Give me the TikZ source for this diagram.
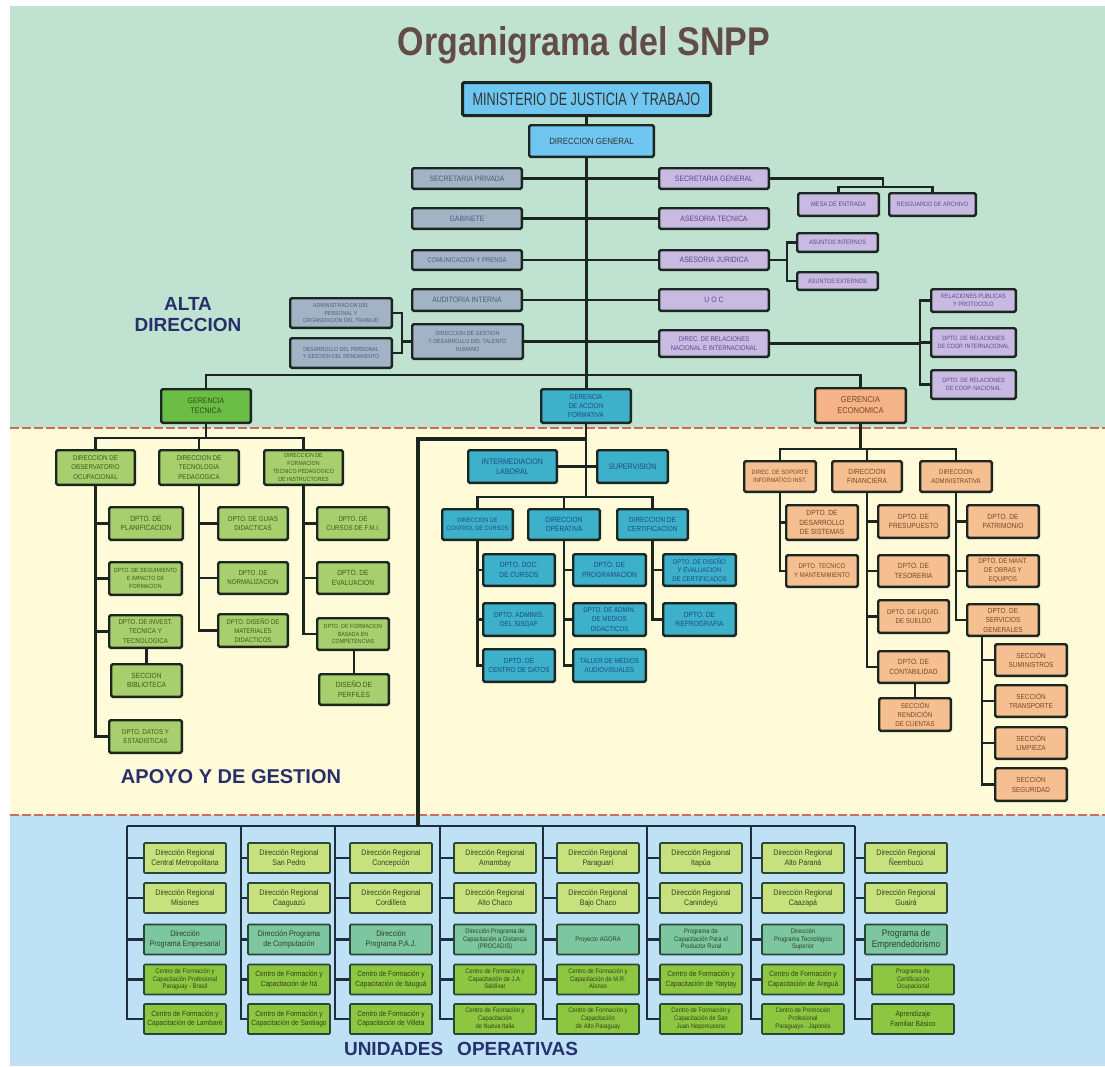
\documentclass[tikz,border=0pt]{standalone}
\usepackage{fontspec}
\setmainfont{Liberation Sans}
\newfontfamily\boxfont[FakeStretch=0.88]{Liberation Sans}
\newfontfamily\ministryfont[FakeStretch=0.7]{Liberation Sans}
\newfontfamily\titlefont[FakeStretch=0.85]{Liberation Sans}
\usetikzlibrary{calc,positioning}

\definecolor{bgGreen}{HTML}{BFE2D1}
\definecolor{bgYellow}{HTML}{FFFBD8}
\definecolor{bgBlue}{HTML}{BEE1F6}
\definecolor{dashRed}{HTML}{D0695F}
\definecolor{lineDark}{HTML}{1C2620}
\definecolor{skyFill}{HTML}{6FC7F1}
\definecolor{grayFill}{HTML}{A2B3C5}
\definecolor{grayText}{HTML}{4F5F78}
\definecolor{lavFill}{HTML}{C9BAE2}
\definecolor{lavText}{HTML}{5A488F}
\definecolor{gtFill}{HTML}{6CBD45}
\definecolor{gtText}{HTML}{28520F}
\definecolor{lgFill}{HTML}{A8CF6E}
\definecolor{lgText}{HTML}{3C5A16}
\definecolor{tealFill}{HTML}{3DB0CA}
\definecolor{tealText}{HTML}{1C4C86}
\definecolor{orangeFill}{HTML}{F6BF92}
\definecolor{geFill}{HTML}{F5B487}
\definecolor{orangeText}{HTML}{7B4521}
\definecolor{regFill}{HTML}{C7E17F}
\definecolor{progFill}{HTML}{7DC6A2}
\definecolor{cfpFill}{HTML}{8DC641}
\definecolor{uoText}{HTML}{2D4418}
\definecolor{uoBorder}{HTML}{2C4636}
\definecolor{blueLine}{HTML}{1E2E3C}
\definecolor{labelNavy}{HTML}{27306B}
\definecolor{titleBrown}{HTML}{5E4E45}

% small three line text for the operative units
\newcommand{\tinyblock}[1]{{\fontsize{6.6}{7.6}\selectfont\begin{tabular}{@{}c@{}}#1\end{tabular}}}
% box from its outer corners (pixels), with its font size
\newcommand{\placebox}[8]{%
  \pgfmathsetmacro\bw{#6-#4-2.4}\pgfmathsetmacro\bh{#7-#5-2.4}\pgfmathsetmacro\ls{#2*1.3}%
  \node[#1,font=\boxfont\fontsize{#2}{\ls}\selectfont,minimum width=\bw pt,minimum height=\bh pt]
    (#3) at ({(#4+#6)/2},{(#5+#7)/2}) {#8};}

\begin{document}
\begin{tikzpicture}
[x=1pt,y=-1pt,
  lineDecorate/.style={draw=lineDark,line width=2.3pt},
  thickDecorate/.style={draw=lineDark,line width=3.2pt},
  uoLineDecorate/.style={draw=blueLine,line width=2.2pt},
  dashDecorate/.style={draw=dashRed,line width=1.8pt,dash pattern=on 9pt off 3pt},
  boxDecorate/.style={draw=lineDark,line width=2.4pt,rounded corners=1.5pt,inner sep=1pt,align=center},
  skyDecorate/.style={boxDecorate,fill=skyFill,text=black!80},
  grayDecorate/.style={boxDecorate,fill=grayFill,text=grayText},
  lavDecorate/.style={boxDecorate,fill=lavFill,text=lavText},
  gtDecorate/.style={boxDecorate,fill=gtFill,text=gtText},
  greenDecorate/.style={boxDecorate,fill=lgFill,text=lgText},
  tealDecorate/.style={boxDecorate,fill=tealFill,text=tealText},
  orangeDecorate/.style={boxDecorate,fill=orangeFill,text=orangeText},
  uoDecorate/.style={draw=uoBorder,line width=1.6pt,rounded corners=1pt,inner sep=1pt,align=center,
    minimum width=82pt,minimum height=30pt,text=uoText,font=\boxfont\fontsize{8}{10}\selectfont},
  regDecorate/.style={uoDecorate,fill=regFill},
  progDecorate/.style={uoDecorate,fill=progFill},
  cfpDecorate/.style={uoDecorate,fill=cfpFill,font=\boxfont\fontsize{7.5}{9.5}\selectfont},
  labelDecorate/.style={text=labelNavy,font=\bfseries\fontsize{19}{21}\selectfont,align=center}]

%% background bands
\useasboundingbox (0,0) rectangle (1105,1066);
\fill[white] (0,0) rectangle (1105,1066);
\fill[bgGreen] (10,6) rectangle (1105,428);
\fill[bgYellow] (10,428) rectangle (1105,815);
\fill[bgBlue] (10,815) rectangle (1105,1066);
\draw[dashDecorate] (10,428) -- (1105,428);
\draw[dashDecorate] (10,815) -- (1105,815);

%% title and section labels
\node[anchor=base,text=black!15,font=\titlefont\bfseries\fontsize{40}{44}\selectfont] (titleshadow) at (585.5,56.5) {Organigrama del SNPP};
\node[anchor=base,text=titleBrown,font=\titlefont\bfseries\fontsize{40}{44}\selectfont] (title) at (584,55) {Organigrama del SNPP};
\node[labelDecorate] (alta) at (188,315) {ALTA\\DIRECCION};
\node[labelDecorate,font=\bfseries\fontsize{20}{22}\selectfont] (apoyo) at (231,777) {APOYO Y DE GESTION};
\node[labelDecorate] (unidades) at (461,1049) {UNIDADES\hspace{14pt}OPERATIVAS};

%% alta direccion
\node[skyDecorate,line width=3pt,font=\ministryfont\fontsize{18}{20}\selectfont,
  minimum width=248pt,minimum height=33pt] (min) at (586.5,99) {MINISTERIO DE JUSTICIA Y TRABAJO};
\placebox{skyDecorate}{9}{dg}{528}{124}{655}{158}{DIRECCION GENERAL}
\foreach \nm/\fs/\xa/\ya/\xb/\yb/\txt in {
  sp/7.8/411/167/523/190/{SECRETARIA PRIVADA},
  gab/7.8/411/207/523/230/{GABINETE},
  com/6.8/411/249/523/271/{COMUNICACION Y PRENSA},
  aud/7.8/411/288/523/312/{AUDITORIA INTERNA},
  ges/6/411/323/524/360/{DIRECCION DE GESTION\\Y DESARROLLO DEL TALENTO\\HUMANO},
  adm/5.8/289/297/393/329/{ADMINISTRACION DEL\\PERSONAL Y\\ORGANIZACION DEL TRABAJO},
  des/5.8/289/337/393/369/{DESARROLLO DEL PERSONAL\\Y GESTION DEL RENDIMIENTO}}
{
  \placebox{grayDecorate}{\fs}{\nm}{\xa}{\ya}{\xb}{\yb}{\txt}
}
\foreach \nm/\fs/\xa/\ya/\xb/\yb/\txt in {
  sg/7.8/658/167/770/190/{SECRETARIA GENERAL},
  asetec/7.8/658/207/770/230/{ASESORIA TECNICA},
  asejur/7.8/658/249/770/271/{ASESORIA JURIDICA},
  uoc/7.8/658/288/770/312/{U O C},
  drel/6.8/658/329/770/358/{DIREC. DE RELACIONES\\NACIONAL E INTERNACIONAL},
  mesa/6.5/797/192/880/217/{MESA DE ENTRADA},
  resg/6.3/888/192/977/217/{RESGUARDO DE ARCHIVO},
  ai/6.3/796/232/879/253/{ASUNTOS INTERNOS},
  ae/6.3/796/271/879/291/{ASUNTOS EXTERNOS},
  rpp/6.3/930/288/1017/313/{RELACIONES PUBLICAS\\Y PROTOCOLO},
  cint/6.2/930/327/1017/358/{DPTO. DE RELACIONES\\DE COOP. INTERNACIONAL},
  cnac/6.2/930/369/1017/400/{DPTO. DE RELACIONES\\DE COOP. NACIONAL}}
{
  \placebox{lavDecorate}{\fs}{\nm}{\xa}{\ya}{\xb}{\yb}{\txt}
}
\placebox{gtDecorate}{8}{gt}{160}{388}{252}{424}{GERENCIA\\TECNICA}
\placebox{tealDecorate}{7.1}{gaf}{540}{388}{632}{424}{GERENCIA\\DE ACCION\\FORMATIVA}
\placebox{orangeDecorate,fill=geFill}{8.5}{ge}{814}{387}{907}{424}{GERENCIA\\ECONOMICA}

%% apoyo y de gestion
\foreach \nm/\fs/\xa/\ya/\xb/\yb/\txt in {
  obs/7/55/449/136/486/{DIRECCION DE\\OBSERVATORIO\\OCUPACIONAL},
  tec/7/158/449/240/486/{DIRECCION DE\\TECNOLOGIA\\PEDAGOGICA},
  form/6/263/449/344/486/{DIRECCION DE\\FORMACION\\TECNICO PEDAGOGICO\\DE INSTRUCTORES},
  plan/7.5/108/506/184/541/{DPTO. DE\\PLANIFICACION},
  seg/6/108/561/183/596/{DPTO. DE SEGUIMIENTO\\E IMPACTO DE\\FORMACION},
  inv/7/108/614/183/649/{DPTO. DE INVEST.\\TECNICA Y\\TECNOLOGICA},
  bib/7.5/110/663/183/698/{SECCION\\BIBLIOTECA},
  dat/7/108/719/183/754/{DPTO. DATOS Y\\ESTADISTICAS},
  guias/7/217/506/289/541/{DPTO. DE GUIAS\\DIDACTICAS},
  norm/7/217/561/289/595/{DPTO. DE\\NORMALIZACION},
  dis/6.8/217/613/289/648/{DPTO. DISEÑO DE\\MATERIALES\\DIDACTICOS},
  fmi/7/316/506/390/541/{DPTO. DE\\CURSOS DE F.M.I.},
  eval/7.5/316/561/390/595/{DPTO. DE\\EVALUACION},
  fbc/6/316/617/390/651/{DPTO. DE FORMACION\\BASADA EN\\COMPETENCIAS},
  perf/7.5/318/673/390/706/{DISEÑO DE\\PERFILES}}
{
  \placebox{greenDecorate}{\fs}{\nm}{\xa}{\ya}{\xb}{\yb}{\txt}
}
\foreach \nm/\fs/\xa/\ya/\xb/\yb/\txt in {
  il/8/467/449/558/484/{INTERMEDIACION\\LABORAL},
  sup/8/596/449/669/484/{SUPERVISION},
  ctrl/6.3/441/508/514/541/{DIRECCION DE\\CONTROL DE CURSOS},
  oper/7.5/527/508/601/541/{DIRECCION\\OPERATIVA},
  cert/7.3/616/508/689/541/{DIRECCION DE\\CERTIFICACION},
  doc/7.5/482/553/556/587/{DPTO. DOC.\\DE CURSOS},
  sisg/7.3/482/602/556/637/{DPTO. ADMINIS.\\DEL SISGAF},
  cdat/7.3/482/648/556/683/{DPTO. DE\\CENTRO DE DATOS},
  prog/7.5/572/553/647/587/{DPTO. DE\\PROGRAMACION},
  medi/7/572/602/647/637/{DPTO. DE ADMIN.\\DE MEDIOS\\DIDACTICOS},
  tall/7/572/648/647/683/{TALLER DE MEDIOS\\AUDIOVISUALES},
  dcert/6.8/662/553/737/587/{DPTO. DE DISEÑO\\Y EVALUACION\\DE CERTIFICADOS},
  repro/7.5/662/602/737/637/{DPTO. DE\\REPROGRAFIA}}
{
  \placebox{tealDecorate}{\fs}{\nm}{\xa}{\ya}{\xb}{\yb}{\txt}
}
\foreach \nm/\fs/\xa/\ya/\xb/\yb/\txt in {
  sop/6.3/743/460/817/493/{DIREC. DE SOPORTE\\INFORMATICO INST.},
  fin/7.5/831/460/903/493/{DIRECCION\\FINANCIERA},
  adm2/6.8/919/460/993/493/{DIRECCION\\ADMINISTRATIVA},
  dsis/7.5/785/504/859/541/{DPTO. DE\\DESARROLLO\\DE SISTEMAS},
  tecm/6.8/785/554/859/588/{DPTO. TECNICO\\Y MANTENIMIENTO},
  pres/7.5/877/504/950/539/{DPTO. DE\\PRESUPUESTO},
  teso/7.5/877/554/950/588/{DPTO. DE\\TESORERIA},
  liq/7/877/599/950/634/{DPTO. DE LIQUID.\\DE SUELDO},
  cont/7.5/877/650/950/684/{DPTO. DE\\CONTABILIDAD},
  rend/7/878/697/952/732/{SECCIÓN\\RENDICIÓN\\DE CUENTAS},
  patr/7.5/966/504/1040/539/{DPTO. DE\\PATRIMONIO},
  mant/7/966/554/1040/588/{DPTO. DE MANT.\\DE OBRAS Y\\EQUIPOS},
  serv/7.3/966/603/1040/637/{DPTO. DE\\SERVICIOS\\GENERALES},
  sumi/7.3/994/643/1068/677/{SECCIÓN\\SUMINISTROS},
  trans/7.3/994/684/1068/718/{SECCIÓN\\TRANSPORTE},
  limp/7.3/994/726/1068/760/{SECCIÓN\\LIMPIEZA},
  segu/7.3/994/767/1068/802/{SECCIÓN\\SEGURIDAD}}
{
  \placebox{orangeDecorate}{\fs}{\nm}{\xa}{\ya}{\xb}{\yb}{\txt}
}

%% edges of alta direccion
\draw[lineDecorate] (min.south) -- (min.south |- dg.north);
\draw[lineDecorate] (min.south |- dg.south) -- (min.south |- gaf.north);
\foreach \lft/\rgt in {sp/sg, gab/asetec, com/asejur, aud/uoc, ges/drel}
{
  \draw[lineDecorate] (\lft.east) -- (\lft.east -| \rgt.west);
}
\coordinate (sgJoin) at (883,187);
\draw[lineDecorate] (sg.east) -| (sgJoin);
\draw[lineDecorate] (mesa.north) |- (sgJoin) -| (resg.north);
\coordinate (ajJoin) at (787,260);
\draw[lineDecorate] (asejur.east) -- (ajJoin);
\draw[lineDecorate] (ai.west) -| (ajJoin) |- (ae.west);
\coordinate (drJoin) at ($(cint.west)+(-10,0)$);
\draw[lineDecorate] (rpp.west) -| (drJoin) |- (cnac.west);
\draw[lineDecorate] (cint.west) -- (drJoin);
\draw[lineDecorate] (drel.east) -- (drel.east -| drJoin);
\coordinate (gesJoin) at ($(ges.west)+(-9,0)$);
\draw[lineDecorate] (adm.east) -| (gesJoin) |- (des.east);
\draw[lineDecorate] (ges.west) -- (gesJoin);
\draw[lineDecorate] (gt.north) -- ++(0,-13) -| (ge.north);

%% edges of apoyo y de gestion
\draw[lineDecorate] (gt.south) -- ++(0,14) coordinate (gtJoin);
\draw[lineDecorate] (obs.north) |- (gtJoin) -| (form.north);
\draw[lineDecorate] (tec.north) -- (tec.north |- gtJoin);
\draw[lineDecorate] (gaf.south) -- ++(0,73) coordinate (gafJoin);
\draw[lineDecorate] (il.east) -- (sup.west);
\draw[lineDecorate] (ctrl.north) |- (gafJoin) -| (cert.north);
\draw[lineDecorate] (oper.north) -- (oper.north |- gafJoin);
\draw[lineDecorate] (ge.south) -- ++(0,25) coordinate (geJoin);
\draw[lineDecorate] (sop.north) |- (geJoin) -| (adm2.north);
\draw[lineDecorate] (fin.north) -- (fin.north |- geJoin);
\foreach \up/\kid in {obs/plan, obs/seg, obs/inv, obs/dat, tec/guias, tec/norm, tec/dis,
  form/fmi, form/eval, form/fbc, ctrl/doc, ctrl/sisg, ctrl/cdat, oper/prog, oper/medi,
  oper/tall, cert/dcert, cert/repro, sop/dsis, sop/tecm, fin/pres, fin/teso, fin/liq,
  fin/cont, adm2/patr, adm2/mant, adm2/serv}
{
  \draw[lineDecorate] (\up.south) |- (\kid.west);
}
\draw[lineDecorate] (bib.north |- inv.south) -- (bib.north);
\draw[lineDecorate] (perf.north |- fbc.south) -- (perf.north);
\draw[lineDecorate] (rend.north |- cont.south) -- (rend.north);
\coordinate (servJoin) at ($(serv.south)+(-21,0)$);
\foreach \kid in {sumi, trans, limp, segu}
{
  \draw[lineDecorate] (servJoin) |- (\kid.west);
}

%% unidades operativas
\foreach \c/\vx in {1/127, 2/241, 3/335, 4/440, 5/543, 6/647, 7/751, 8/855}
{
  \coordinate (top\c) at (\vx,826);
}
\coordinate (uoJoin) at (418,826);
\draw[uoLineDecorate] (top1) -- (top8);
\draw[thickDecorate] ($(gaf.south)+(0,15)$) -| (uoJoin);
\foreach \c/\bx/\sx/\ta/\tb/\tc/\td/\te in {
  1/143/0/{Dirección Regional\\Central Metropolitana}/{Dirección Regional\\Misiones}/{Dirección\\Programa Empresarial}/{\tinyblock{Centro de Formación y\\Capacitación Profesional\\Paraguay - Brasil}}/{Centro de Formación y\\Capacitación de Lambaré},
  2/247/0/{Dirección Regional\\San Pedro}/{Dirección Regional\\Caaguazú}/{Dirección Programa\\de Computación}/{Centro de Formación y\\Capacitación de Itá}/{Centro de Formación y\\Capacitación de Santiago},
  3/349/0/{Dirección Regional\\Concepción}/{Dirección Regional\\Cordillera}/{Dirección\\Programa P.A.J.}/{Centro de Formación y\\Capacitación de Itauguá}/{Centro de Formación y\\Capacitación de Villeta},
  4/453/0/{Dirección Regional\\Amambay}/{Dirección Regional\\Alto Chaco}/{\tinyblock{Dirección Programa de\\Capacitación a Distancia\\(PROCADIS)}}/{\tinyblock{Centro de Formación y\\Capacitación de J.A.\\Saldívar}}/{\tinyblock{Centro de Formación y\\Capacitación\\de Nueva Italia}},
  5/556/0/{Dirección Regional\\Paraguarí}/{Dirección Regional\\Bajo Chaco}/{\tinyblock{Proyecto AGORA}}/{\tinyblock{Centro de Formación y\\Capacitación de M.R.\\Alonso}}/{\tinyblock{Centro de Formación y\\Capacitación\\de Alto Paraguay}},
  6/659/0/{Dirección Regional\\Itapúa}/{Dirección Regional\\Canindeyú}/{\tinyblock{Programa de\\Capacitación Para el\\Productor Rural}}/{Centro de Formación y\\Capacitación de Yatytay}/{\tinyblock{Centro de Formación y\\Capacitación de San\\Juan Nepomuceno}},
  7/761/0/{Dirección Regional\\Alto Paraná}/{Dirección Regional\\Caazapá}/{\tinyblock{Dirección\\Programa Tecnológico\\Superior}}/{Centro de Formación y\\Capacitación de Areguá}/{\tinyblock{Centro de Promoción\\Profesional\\Paraguayo - Japonés}},
  8/864/7/{Dirección Regional\\Ñeembucú}/{Dirección Regional\\Guairá}/{{\fontsize{9.5}{11}\selectfont\begin{tabular}{@{}c@{}}Programa de\\Emprendedorismo\end{tabular}}}/{\tinyblock{Programa de\\Certificación\\Ocupacional}}/{Aprendizaje\\Familiar Básico}}
{
  \node[regDecorate] (u\c-1) at (\bx+42,858) {\ta};
  \node[regDecorate] (u\c-2) at (\bx+42,898) {\tb};
  \node[progDecorate] (u\c-3) at (\bx+42,939.5) {\tc};
  \node[cfpDecorate] (u\c-4) at (\bx+42+\sx,979.5) {\td};
  \node[cfpDecorate] (u\c-5) at (\bx+42+\sx,1019) {\te};
  \draw[uoLineDecorate] (top\c) |- (u\c-5.west);
  \foreach \r in {1,...,4}
  {
    \draw[uoLineDecorate] (top\c |- u\c-\r.west) -- (u\c-\r.west);
  }
}
\end{tikzpicture}
\end{document}
